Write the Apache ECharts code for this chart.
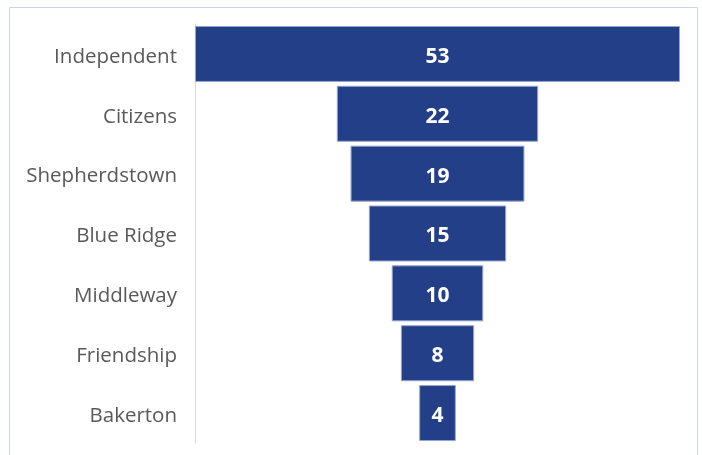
<!DOCTYPE html>
<html>
<head>
<meta charset="utf-8">
<script src="https://cdn.jsdelivr.net/npm/echarts@6/dist/echarts.min.js"></script>
<style>
html,body{margin:0;padding:0;background:#fff;}
#c{width:702px;height:455px;}
</style>
</head>
<body>
<div id="c"></div>
<script>
const categories = ["Independent","Citizens","Shepherdstown","Blue Ridge","Middleway","Friendship","Bakerton"];
const values = [53,22,19,15,10,8,4];

const maxV = Math.max.apply(null, values);
const offsets = values.map(v => (maxV - v) / 2);

const chart = echarts.init(document.getElementById('c'), null, {renderer:'canvas'});
chart.setOption({
  animation:false,
  backgroundColor:'#ffffff',
  graphic:[{
    type:'rect', silent:true, z:-1,
    shape:{x:9.5,y:7.5,width:688,height:470},
    style:{fill:'none',stroke:'#cbd3e7',lineWidth:1}
  }],
  grid:{left:195,right:22,top:24,bottom:12,containLabel:false},
  xAxis:{type:'value',min:0,max:maxV,show:false},
  yAxis:{
    type:'category',data:categories,inverse:true,
    axisLine:{show:true,lineStyle:{color:'#d9d9d9',width:1}},
    axisTick:{show:false},
    splitLine:{show:false},
    axisLabel:{color:'#595959',fontSize:20.5,fontFamily:'Open Sans',margin:18,verticalAlign:'top',lineHeight:6}
  },
  series:[
    {type:'bar',stack:'f',data:offsets,itemStyle:{color:'transparent'},silent:true,barCategoryGap:'6.5%'},
    {type:'bar',stack:'f',data:values,barCategoryGap:'6.5%',
      itemStyle:{color:'#233f87',borderColor:'#94a3cf',borderWidth:1},
      label:{show:true,position:'inside',offset:[0,3],color:'#ffffff',fontSize:21,fontWeight:'bold',fontFamily:'Open Sans'}
    }
  ]
});
</script>
</body>
</html>
